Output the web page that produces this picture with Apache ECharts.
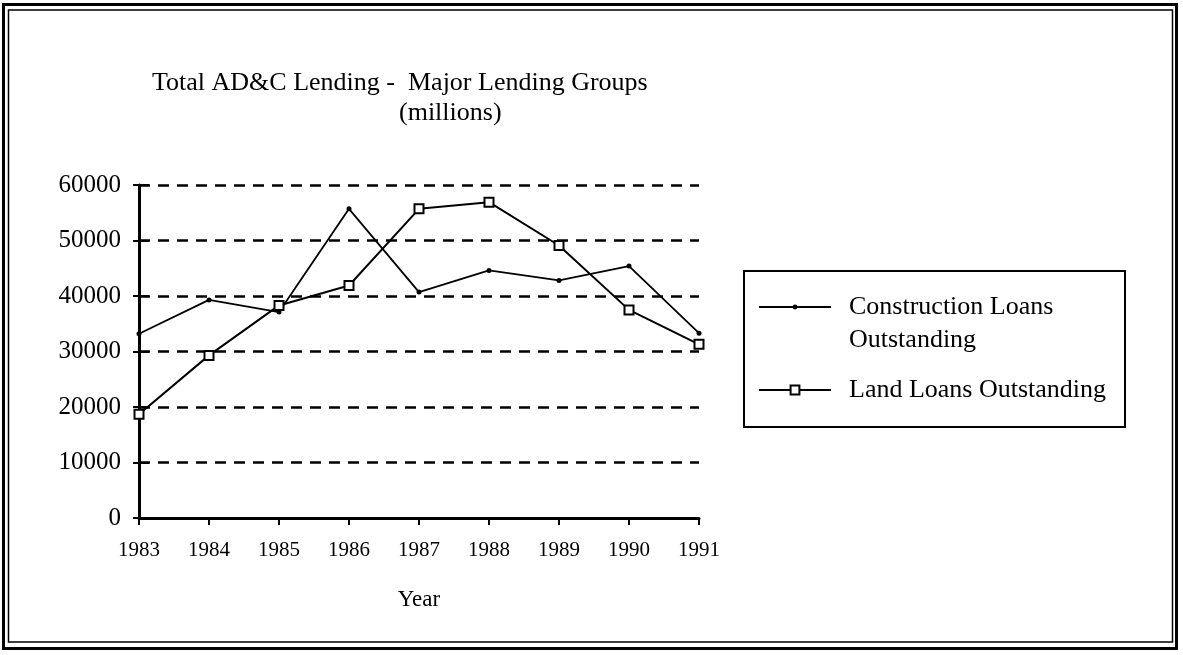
<!DOCTYPE html>
<html>
<head>
<meta charset="utf-8">
<script src="https://cdn.jsdelivr.net/npm/echarts@6/dist/echarts.min.js"></script>
<style>
  html, body { margin: 0; padding: 0; background: #fff; }
  #chart { width: 1183px; height: 655px; }
</style>
</head>
<body>
<div id="chart"></div>
<script>
// values (millions)
const years = ['1983', '1984', '1985', '1986', '1987', '1988', '1989', '1990', '1991'];
const constructionLoans = [33200, 39300, 37100, 55700, 40700, 44600, 42800, 45400, 33300];
const landLoans = [18700, 29300, 38300, 41900, 55700, 56900, 49100, 37500, 31300];
const yMin = 0, yMax = 60000, yStep = 10000;

const serif = 'Liberation Serif';
const chart = echarts.init(document.getElementById('chart'));

const legendText = { fontFamily: serif, fontSize: 26, color: '#000', lineHeight: 33, padding: [0, 0, 0, 13] };

const option = {
  animation: false,
  backgroundColor: '#fff',
  title: [
    {
      text: 'Total AD&C Lending -  Major Lending Groups',
      left: 152, top: 70, padding: 0,
      textStyle: { fontFamily: serif, fontSize: 26, fontWeight: 'normal', color: '#000' }
    },
    {
      text: '(millions)',
      left: 399, top: 100, padding: 0,
      textStyle: { fontFamily: serif, fontSize: 26, fontWeight: 'normal', color: '#000' }
    }
  ],
  graphic: [
    // double frame round the picture
    { type: 'rect', silent: true, shape: { x: 3.5, y: 4.5, width: 1173, height: 644 },
      style: { fill: 'none', stroke: '#000', lineWidth: 3 } },
    { type: 'rect', silent: true, shape: { x: 8.5, y: 10, width: 1164, height: 632 },
      style: { fill: 'none', stroke: '#000', lineWidth: 1.5 } },
    // legend box
    { type: 'rect', silent: true, shape: { x: 744, y: 271, width: 381, height: 156 },
      style: { fill: 'none', stroke: '#000', lineWidth: 2 } }
  ],
  // two legends so each sample can keep its own marker size
  legend: [
    {
      orient: 'vertical',
      left: 758, top: 257.5,
      padding: 0,
      itemWidth: 72,
      itemHeight: 6,
      textStyle: legendText,
      data: ['Construction Loans Outstanding'],
      // blank first line keeps the sample level with "Construction Loans"
      formatter: function () { return ' \nConstruction Loans\nOutstanding'; }
    },
    {
      orient: 'vertical',
      left: 758, top: 373.5,
      padding: 0,
      itemWidth: 72,
      itemHeight: 11,
      textStyle: legendText,
      data: ['Land Loans Outstanding']
    }
  ],
  grid: { left: 139, right: 484, top: 185, bottom: 137 },
  xAxis: {
    type: 'category',
    data: years,
    boundaryGap: false,
    name: 'Year',
    nameLocation: 'middle',
    nameGap: 70,
    nameTextStyle: { fontFamily: serif, fontSize: 23, color: '#000' },
    axisLine: { lineStyle: { color: '#000', width: 3 } },
    axisTick: { alignWithLabel: true, length: 7, lineStyle: { color: '#000', width: 2 } },
    axisLabel: { fontFamily: serif, fontSize: 21, color: '#000', margin: 22 },
    splitLine: { show: false }
  },
  yAxis: [
    {
      type: 'value',
      min: yMin, max: yMax, interval: yStep,
      axisLine: { show: true, lineStyle: { color: '#000', width: 3 } },
      axisTick: { show: true, length: 6, lineStyle: { color: '#000', width: 2 } },
      axisLabel: {
        fontFamily: serif, fontSize: 25, color: '#000', margin: 18,
        formatter: function (v) { return String(v); }
      },
      splitLine: { show: true, lineStyle: { color: '#000', width: 2.5, type: [11, 8] } }
    },
    {
      // second copy of the scale only to draw the inner half of the crossing ticks
      type: 'value', position: 'left',
      min: yMin, max: yMax, interval: yStep,
      axisLine: { show: false },
      axisTick: { show: true, inside: true, length: 10, lineStyle: { color: '#000', width: 2 } },
      axisLabel: { show: false },
      splitLine: { show: false }
    }
  ],
  series: [
    {
      name: 'Construction Loans Outstanding',
      type: 'line',
      data: constructionLoans,
      symbol: 'circle',
      symbolSize: 5,
      itemStyle: { color: '#000' },
      lineStyle: { color: '#000', width: 1.8 }
    },
    {
      name: 'Land Loans Outstanding',
      type: 'line',
      data: landLoans,
      symbol: 'rect',
      symbolSize: 9,
      itemStyle: { color: '#fff', borderColor: '#000', borderWidth: 2 },
      lineStyle: { color: '#000', width: 2 }
    }
  ]
};

chart.setOption(option);
</script>
</body>
</html>
